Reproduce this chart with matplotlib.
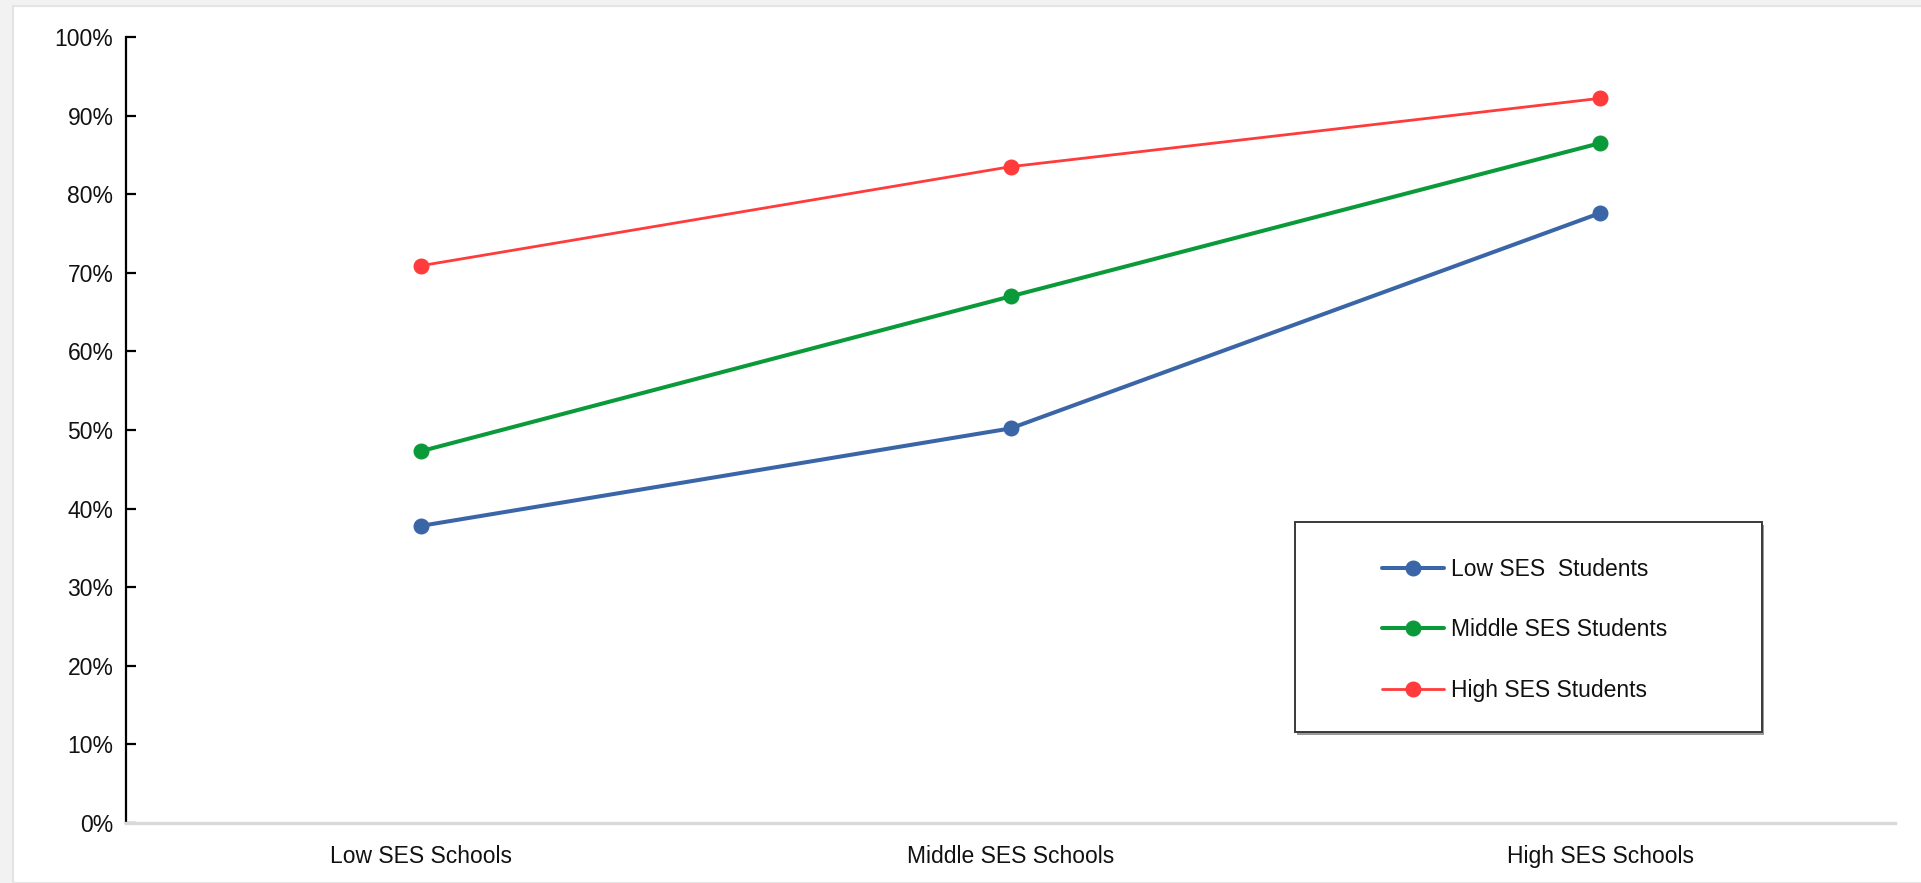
import matplotlib.pyplot as plt
from matplotlib.patches import Rectangle
from matplotlib.ticker import PercentFormatter

plt.rcParams['font.family'] = ['Liberation Sans', 'DejaVu Sans']

schools = ['Low SES Schools', 'Middle SES Schools', 'High SES Schools']
low_ses = [37.8, 50.2, 77.6]
middle_ses = [47.3, 67.0, 86.5]
high_ses = [70.9, 83.5, 92.2]
series_names = ['Low SES  Students', 'Middle SES Students', 'High SES Students']
colors = ['#3a66a8', '#0b9a3a', '#ff3b3b']

W, H = 1921, 883
fig = plt.figure(figsize=(W / 100, H / 100), dpi=100, facecolor='#f2f2f2')

# white panel behind the chart
fig.patches.append(Rectangle((13 / W, 0), 1, 1 - 6 / H, transform=fig.transFigure,
                             facecolor='white', edgecolor='#e4e4e4', lw=1.5, zorder=-5))

ax = fig.add_axes([126 / W, 1 - 823 / H, (1895 - 126) / W, (823 - 37) / H])
ax.set_facecolor('none')
ax.set_zorder(2)

x = range(len(schools))
for vals, name, c, lw in zip([low_ses, middle_ses, high_ses], series_names, colors, [2.9, 2.9, 2.0]):
    ax.plot(x, [v / 100 for v in vals], color=c, lw=lw, marker='o', markersize=10.5,
            label=name, solid_capstyle='round')

ax.set_xlim(-0.5, 2.5)
ax.set_ylim(0, 1)
ax.set_yticks([i / 10 for i in range(11)])
ax.yaxis.set_major_formatter(PercentFormatter(1.0, decimals=0))
ax.set_xticks(list(x))
ax.set_xticklabels(schools)

for s in ['top', 'right']:
    ax.spines[s].set_visible(False)
ax.spines['left'].set_color('black')
ax.spines['left'].set_linewidth(1.6)
ax.spines['bottom'].set_color('#d9d9d9')
ax.spines['bottom'].set_linewidth(2.4)

ax.tick_params(axis='y', direction='in', length=7, width=1.6, pad=9,
               labelsize=16.5, labelcolor='#111111')
ax.tick_params(axis='x', length=0, pad=16, labelsize=16.5, labelcolor='#111111')

# legend box with a soft shadow
bx0, by0, bx1, by1 = 1295, 522, 1762, 732
ax.add_patch(Rectangle(((bx0 + 2) / W, 1 - (by1 + 3) / H), (bx1 - bx0) / W, (by1 - by0) / H,
                       transform=fig.transFigure, facecolor='#9a9a9a', edgecolor='none',
                       zorder=3, clip_on=False))
ax.add_patch(Rectangle((bx0 / W, 1 - by1 / H), (bx1 - bx0) / W, (by1 - by0) / H,
                       transform=fig.transFigure, facecolor='white', edgecolor='#3a3a3a',
                       lw=1.4, zorder=4, clip_on=False))

leg = ax.legend(loc='center', bbox_to_anchor=((bx0 + bx1) / 2 / W - 0.002, 1 - (by0 + by1 + 6) / 2 / H),
                bbox_transform=fig.transFigure, frameon=False, fontsize=16.5,
                handlelength=2.7, handletextpad=0.3, labelspacing=1.62)
leg.set_zorder(5)
for t in leg.get_texts():
    t.set_color('#111111')

plt.savefig('out.png', dpi=100, facecolor=fig.get_facecolor())
